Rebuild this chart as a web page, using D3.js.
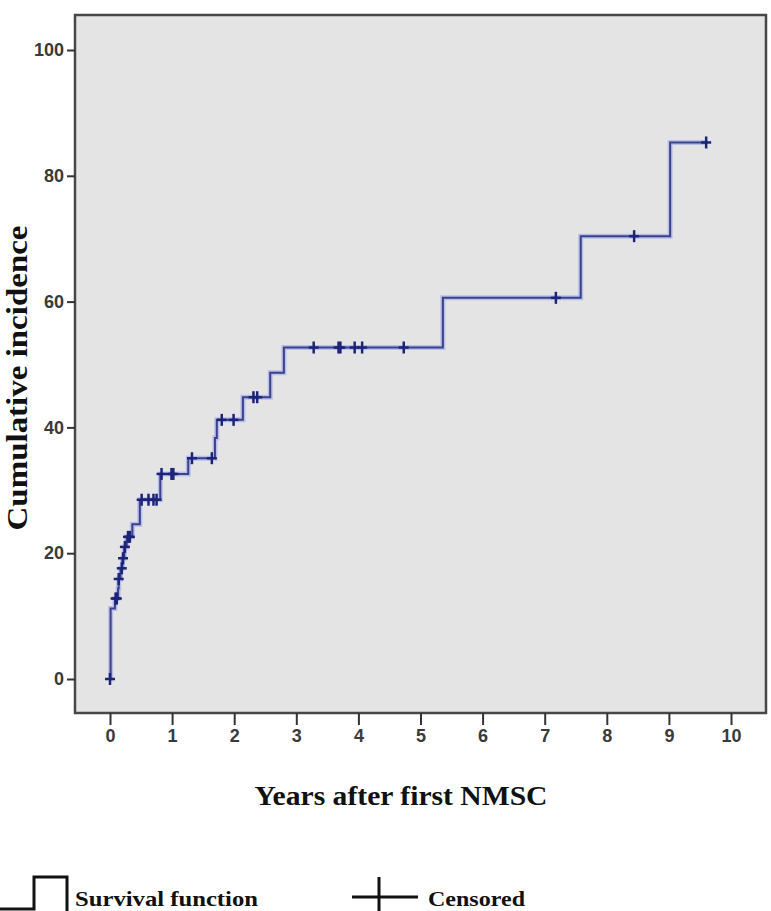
<!DOCTYPE html>
<head>
  <meta charset="utf-8">
  <script src="https://d3js.org/d3.v7.min.js"></script>
  <style>
    body { margin:0; background:#fff; }
    .tick text { font-family: "Liberation Sans Narrow", "Liberation Sans", Arial, sans-serif; font-weight: bold; fill:#3a3a3a; }
    .title { font-family: "Liberation Serif", "Times New Roman", serif; font-weight: bold; fill:#111; }
  </style>
</head>

<body>
  <svg width="771" height="911"></svg>
  <script>
    // step events: time (years) and cumulative incidence (%)
    var eventTimes  = [0, 0.01, 0.08, 0.13, 0.14, 0.17, 0.20, 0.23, 0.27, 0.36, 0.48, 0.81, 1.26, 1.69, 1.72, 2.14, 2.58, 2.80, 5.36, 7.58, 9.02];
    var eventValues = [0, 11.2, 12.8, 14.4, 15.9, 17.6, 19.2, 21.0, 22.6, 24.6, 28.5, 32.6, 35.1, 38.3, 41.2, 44.8, 48.7, 52.7, 60.6, 70.4, 85.3];
    var lastTime = 9.6;

    // censored observations (years)
    var censoredTimes = [0, 0.09, 0.11, 0.14, 0.19, 0.21, 0.24, 0.29, 0.32, 0.51, 0.62, 0.70, 0.75, 0.83, 0.99, 1.02,
                         1.32, 1.64, 1.80, 1.99, 2.31, 2.37, 3.28, 3.68, 3.71, 3.94, 4.06, 4.73, 7.18, 8.44, 9.6];

    var xTicks = [0, 1, 2, 3, 4, 5, 6, 7, 8, 9, 10];
    var yTicks = [0, 20, 40, 60, 80, 100];

    var svg = d3.select("svg");

    var frame = {left: 75, right: 766, top: 15, bottom: 713};

    var x = d3.scaleLinear().domain([0, 10]).range([110, 731]);
    var y = d3.scaleLinear().domain([0, 100]).range([679, 50]);

    // plot background
    svg.append("rect")
      .attr("x", frame.left).attr("y", frame.top)
      .attr("width", frame.right - frame.left)
      .attr("height", frame.bottom - frame.top)
      .attr("fill", "#e4e4e4")
      .attr("stroke", "#474747")
      .attr("stroke-width", 2.5);

    // axes
    var yAxis = svg.append("g")
      .attr("transform", "translate(" + frame.left + ",0)")
      .call(d3.axisLeft(y).tickValues(yTicks).tickSize(8).tickPadding(3));
    yAxis.select(".domain").remove();
    yAxis.selectAll(".tick line").attr("stroke", "#333").attr("stroke-width", 2);
    yAxis.selectAll(".tick text").attr("font-size", 18);

    var xAxis = svg.append("g")
      .attr("transform", "translate(0," + frame.bottom + ")")
      .call(d3.axisBottom(x).tickValues(xTicks).tickSize(12).tickPadding(4));
    xAxis.select(".domain").remove();
    xAxis.selectAll(".tick line").attr("stroke", "#333").attr("stroke-width", 2);
    xAxis.selectAll(".tick text").attr("font-size", 18);

    // step curve
    var pts = eventTimes.map(function(t, i) { return {t: t, v: eventValues[i]}; });
    pts.push({t: lastTime, v: eventValues[eventValues.length - 1]});

    var line = d3.line()
      .x(function(d) { return x(d.t); })
      .y(function(d) { return y(d.v); })
      .curve(d3.curveStepAfter);

    svg.append("path")
      .attr("d", line(pts))
      .attr("fill", "none")
      .attr("stroke", "#aeb3ec")
      .attr("stroke-width", 5)
      .attr("opacity", 0.8);

    svg.append("path")
      .attr("d", line(pts))
      .attr("fill", "none")
      .attr("stroke", "#3a4288")
      .attr("stroke-width", 2);

    // censored marks sit on the step value at that time
    var bis = d3.bisector(function(d) { return d; }).right;
    function stepValue(t) {
      var i = bis(eventTimes, t) - 1;
      return eventValues[Math.max(i, 0)];
    }

    var marks = svg.append("g").attr("stroke", "#1c2478").attr("stroke-width", 2.5);
    censoredTimes.forEach(function(t) {
      var cx = x(t), cy = y(stepValue(t));
      marks.append("line").attr("x1", cx).attr("x2", cx).attr("y1", cy - 6).attr("y2", cy + 6);
      marks.append("line").attr("x1", cx - 5).attr("x2", cx + 5).attr("y1", cy).attr("y2", cy);
    });

    // axis titles
    svg.append("text")
      .attr("class", "title")
      .attr("transform", "translate(27,378) rotate(-90)")
      .attr("text-anchor", "middle")
      .attr("font-size", 29)
      .attr("textLength", 305)
      .attr("lengthAdjust", "spacingAndGlyphs")
      .text("Cumulative incidence");

    svg.append("text")
      .attr("class", "title")
      .attr("x", 401).attr("y", 805)
      .attr("text-anchor", "middle")
      .attr("font-size", 27)
      .attr("textLength", 293)
      .attr("lengthAdjust", "spacingAndGlyphs")
      .text("Years after first NMSC");

    // legend
    var leg = svg.append("g");
    leg.append("path")
      .attr("d", "M0,909 H34 V877 H67 V911")
      .attr("fill", "none").attr("stroke", "#111").attr("stroke-width", 3);
    leg.append("text").attr("class", "title")
      .attr("x", 75).attr("y", 906).attr("font-size", 22)
      .attr("textLength", 183)
      .attr("lengthAdjust", "spacingAndGlyphs")
      .text("Survival function");
    leg.append("line").attr("x1", 352).attr("x2", 418).attr("y1", 897).attr("y2", 897)
      .attr("stroke", "#111").attr("stroke-width", 3);
    leg.append("line").attr("x1", 379).attr("x2", 379).attr("y1", 877).attr("y2", 911)
      .attr("stroke", "#111").attr("stroke-width", 3);
    leg.append("text").attr("class", "title")
      .attr("x", 428).attr("y", 906).attr("font-size", 22)
      .attr("textLength", 97)
      .attr("lengthAdjust", "spacingAndGlyphs")
      .text("Censored");
  </script>
</body>
